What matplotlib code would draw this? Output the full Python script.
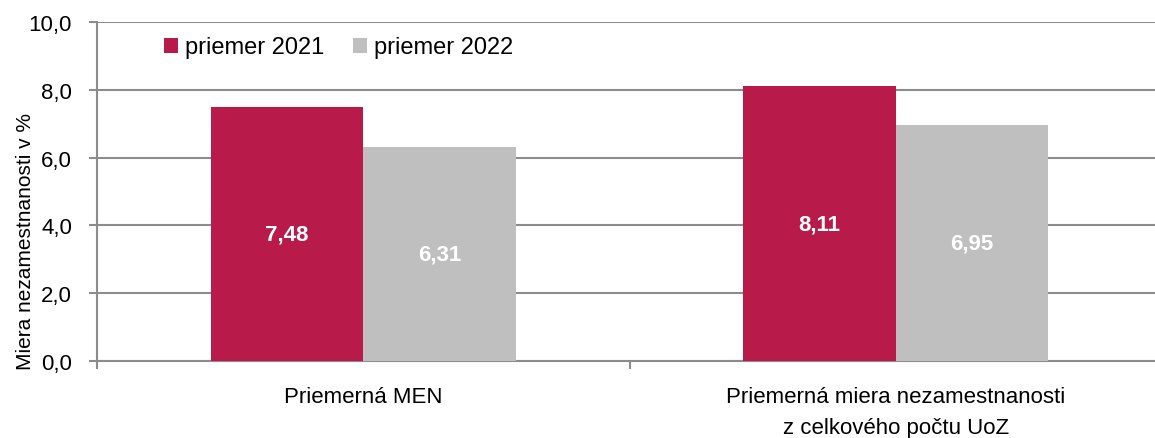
import numpy as np
import matplotlib.pyplot as plt

categories = ['Priemerná MEN', 'Priemerná miera nezamestnanosti\nz celkového počtu UoZ']
series = ['priemer 2021', 'priemer 2022']
values_2021 = [7.48, 8.11]
values_2022 = [6.31, 6.95]
labels_2021 = ['7,48', '8,11']
labels_2022 = ['6,31', '6,95']
colors = ['#b81a4a', '#bfbfbf']

plt.rcParams['font.family'] = ['Liberation Sans', 'DejaVu Sans']
fs = 16

fig = plt.figure(figsize=(11.55, 4.39), dpi=100)
# axes runs a little past the right edge, like the original crop
ax = fig.add_axes([97/1155, 1-362/439, (1162-97)/1155, (362-23)/439])

x = np.arange(len(categories))
w = 0.286
b1 = ax.bar(x - w/2, values_2021, w, color=colors[0], label=series[0], zorder=3)
b2 = ax.bar(x + w/2, values_2022, w, color=colors[1], label=series[1], zorder=3)

for bars, labs in [(b1, labels_2021), (b2, labels_2022)]:
    for r, t in zip(bars, labs):
        ax.text(r.get_x() + r.get_width()/2, r.get_height()/2, t, ha='center', va='center',
                color='white', fontsize=fs, fontweight='bold', zorder=4)

ax.set_xlim(-0.5, 1.5)
ax.set_ylim(0, 10)
yt = np.arange(0, 10.1, 2)
ax.set_yticks(yt)
ax.set_yticklabels([('%.1f' % v).replace('.', ',') for v in yt], fontsize=fs)
ax.yaxis.grid(True, color='#8c8c8c', lw=1.5, zorder=0)
ax.set_xticks(x)
ax.set_xticklabels(categories, fontsize=fs, linespacing=1.62)
ax.tick_params(axis='x', length=0, pad=18)
ax.set_xticks([-0.5, 0.5, 1.5], minor=True)
ax.tick_params(axis='x', which='minor', length=6, width=1.5, color='#8c8c8c')
ax.tick_params(axis='y', length=6, width=1.5, color='#8c8c8c', pad=12)
for s in ['top', 'right']:
    ax.spines[s].set_visible(False)
for s in ['left', 'bottom']:
    ax.spines[s].set_color('#8c8c8c')
    ax.spines[s].set_linewidth(1.5)

fig.text(26/1155, 1-241/439, 'Miera nezamestnanosti v %', rotation=90, fontsize=15,
         ha='center', va='center')

ax.legend(loc='upper left', bbox_to_anchor=(0.043, 1.02), ncol=2, frameon=False, fontsize=17,
          handlelength=0.6, handleheight=0.6, handletextpad=0.3, columnspacing=1.2)

fig.savefig('out.png', dpi=100)
